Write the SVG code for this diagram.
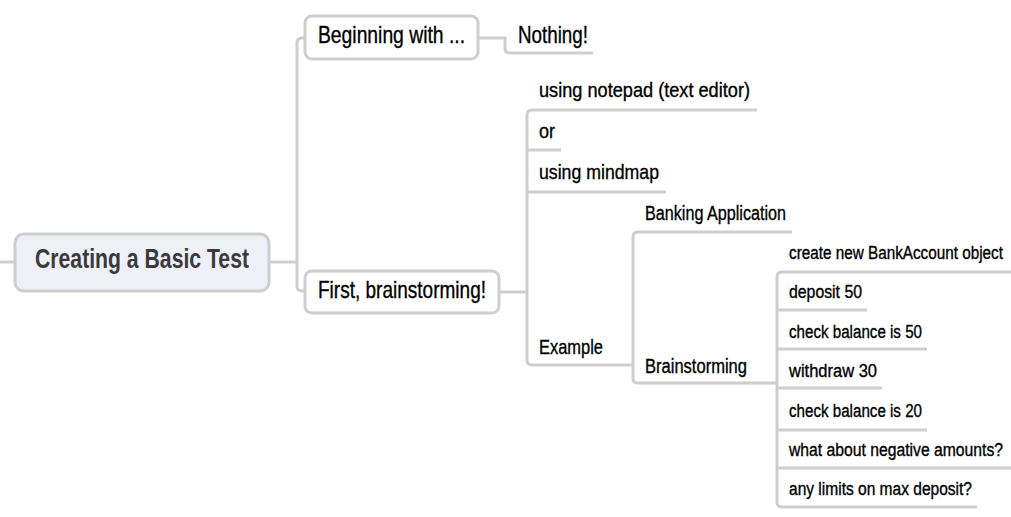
<svg xmlns="http://www.w3.org/2000/svg" width="1011" height="517" viewBox="0 0 1011 517">
<style>
.ln{fill:none;stroke:#cecece;stroke-width:3;stroke-linecap:butt}
.box{fill:#ffffff;stroke:#cecece;stroke-width:3}
.root{fill:#eff0f7;stroke:#cecece;stroke-width:3}
text{font-family:"Liberation Sans",Arial,sans-serif;fill:#000;stroke:#000;stroke-width:0.35}
.t0{font-size:28px;font-weight:bold;fill:#3a3a3a;stroke:none}
.t1{font-size:24px}
.t2{font-size:21px}
.t3{font-size:20px}
.t4{font-size:18px}
</style>
<rect width="1011" height="517" fill="#ffffff"/>
<g id="connectors">
<path class="ln" d="M0 262 H15"/>
<path class="ln" d="M269 262 H297"/>
<path class="ln" d="M305 38 H302 Q297 38 297 43 V286 Q297 291 302 291 H305"/>
<path class="ln" d="M478 38 H505 V48 Q505 53 510 53 H593"/>
<path class="ln" d="M499 292 H527"/>
<path class="ln" d="M757 110 H532 Q527 110 527 115 V360 Q527 365 532 365 H633"/>
<path class="ln" d="M527 150 H561"/>
<path class="ln" d="M527 192 H666"/>
<path class="ln" d="M792 232 H638 Q633 232 633 237 V378 Q633 383 638 383 H777"/>
<path class="ln" d="M1011 272 H782 Q777 272 777 277 V502 Q777 507 782 507 H977"/>
<path class="ln" d="M777 310 H867"/>
<path class="ln" d="M777 349 H927"/>
<path class="ln" d="M777 388 H882"/>
<path class="ln" d="M777 430 H927"/>
<path class="ln" d="M777 468 H1011"/>
</g>
<g id="node-root">
<rect class="root" x="15" y="234" width="254" height="57" rx="9"/>
<text class="t0" x="35" y="268" textLength="214" lengthAdjust="spacingAndGlyphs">Creating a Basic Test</text>
</g>
<g id="node-beginning">
<rect class="box" x="305" y="16" width="173" height="43" rx="7"/>
<text class="t1" x="318" y="43" textLength="147" lengthAdjust="spacingAndGlyphs">Beginning with ...</text>
</g>
<g id="node-nothing">
<text class="t1" x="518" y="43" textLength="70" lengthAdjust="spacingAndGlyphs">Nothing!</text>
</g>
<g id="node-first">
<rect class="box" x="305" y="271" width="194" height="42" rx="7"/>
<text class="t1" x="318" y="298" textLength="168" lengthAdjust="spacingAndGlyphs">First, brainstorming!</text>
</g>
<g id="node-notepad">
<text class="t2" x="539" y="97" textLength="211" lengthAdjust="spacingAndGlyphs">using notepad (text editor)</text>
</g>
<g id="node-or">
<text class="t2" x="539" y="138" textLength="16" lengthAdjust="spacingAndGlyphs">or</text>
</g>
<g id="node-mindmap">
<text class="t2" x="539" y="179" textLength="120" lengthAdjust="spacingAndGlyphs">using mindmap</text>
</g>
<g id="node-example">
<text class="t2" x="539" y="354" textLength="64" lengthAdjust="spacingAndGlyphs">Example</text>
</g>
<g id="node-banking">
<text class="t3" x="645" y="220" textLength="141" lengthAdjust="spacingAndGlyphs">Banking Application</text>
</g>
<g id="node-brainstorming">
<text class="t3" x="645" y="373" textLength="102" lengthAdjust="spacingAndGlyphs">Brainstorming</text>
</g>
<g id="node-create">
<text class="t4" x="789" y="259" textLength="214" lengthAdjust="spacingAndGlyphs">create new BankAccount object</text>
</g>
<g id="node-deposit">
<text class="t4" x="789" y="298" textLength="73" lengthAdjust="spacingAndGlyphs">deposit 50</text>
</g>
<g id="node-check50">
<text class="t4" x="789" y="338" textLength="133" lengthAdjust="spacingAndGlyphs">check balance is 50</text>
</g>
<g id="node-withdraw">
<text class="t4" x="789" y="377" textLength="88" lengthAdjust="spacingAndGlyphs">withdraw 30</text>
</g>
<g id="node-check20">
<text class="t4" x="789" y="417" textLength="133" lengthAdjust="spacingAndGlyphs">check balance is 20</text>
</g>
<g id="node-negative">
<text class="t4" x="789" y="456" textLength="214" lengthAdjust="spacingAndGlyphs">what about negative amounts?</text>
</g>
<g id="node-limits">
<text class="t4" x="789" y="495" textLength="183" lengthAdjust="spacingAndGlyphs">any limits on max deposit?</text>
</g>
</svg>
